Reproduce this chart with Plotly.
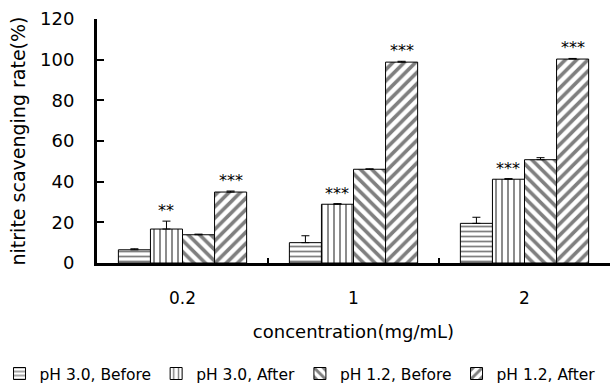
import plotly.graph_objects as go

categories = ["0.2", "1", "2"]
series_names = ["pH 3.0, Before", "pH 3.0, After", "pH 1.2, Before", "pH 1.2, After"]
ph30_before = [6.5, 10.0, 19.5]
ph30_after = [16.7, 28.9, 41.2]
ph12_before = [13.9, 46.1, 50.8]
ph12_after = [34.9, 98.8, 100.3]
ph30_before_err = [0.5, 3.4, 3.0]
ph30_after_err = [3.9, 0.3, 0.3]
ph12_before_err = [0.3, 0.2, 1.0]
ph12_after_err = [0.5, 0.4, 0.3]
ph30_after_stars = ["**", "***", "***"]
ph12_after_stars = ["***", "***", "***"]

FONT = "DejaVu Sans"
values = [ph30_before, ph30_after, ph12_before, ph12_after]
errors = [ph30_before_err, ph30_after_err, ph12_before_err, ph12_after_err]
shapes = ["-", "|", "\\", "/"]
sizes = [5, 6, 8, 8]
solid = [0.35, 0.3, 0.45, 0.45]

fig = go.Figure()
for name, v, e, sh, sz, so in zip(series_names, values, errors, shapes, sizes, solid):
    fig.add_trace(go.Bar(
        x=categories, y=v, name=name,
        marker=dict(color="white", line=dict(color="black", width=1),
                    pattern=dict(shape=sh, fgcolor="black", bgcolor="white",
                                 size=sz, solidity=so, fillmode="overlay")),
        error_y=dict(type="data", array=e, arrayminus=[0] * len(e), symmetric=False,
                     color="black", thickness=1, width=4),
    ))

# significance marks
plot_w = 610 - 97
cat_w = plot_w / len(categories)
bar_w = cat_w * 0.75 / 4
annotations = []
for idx, stars, v, e in [(1, ph30_after_stars, ph30_after, ph30_after_err),
                         (3, ph12_after_stars, ph12_after, ph12_after_err)]:
    for ci, (s, val, er) in enumerate(zip(stars, v, e)):
        annotations.append(dict(
            x=ci, y=val + er, xref="x", yref="y", text=s, showarrow=False,
            xshift=(idx - 1.5) * bar_w, yshift=-1, yanchor="bottom",
            font=dict(family=FONT, size=16, color="#000000")))

fig.update_layout(
    width=610, height=388,
    margin=dict(l=97, r=0, t=19, b=125, autoexpand=False),
    paper_bgcolor="white", plot_bgcolor="white",
    barmode="group", bargap=0.25, bargroupgap=0,
    font=dict(family=FONT, size=17, color="black"),
    annotations=annotations,
    showlegend=True,
    legend=dict(orientation="h", xref="paper", yref="paper",
                x=-0.19, xanchor="left", y=-0.385, yanchor="top",
                font=dict(family=FONT, size=15.5, color="black"),
                itemwidth=30, tracegroupgap=0),
)
fig.update_xaxes(
    type="category", categoryorder="array", categoryarray=categories,
    automargin=False,
    showline=True, linecolor="black", linewidth=3, mirror=False,
    ticks="inside", tickson="boundaries", ticklen=5, tickwidth=2, tickcolor="black",
    ticklabelstandoff=18, tickfont=dict(family=FONT, size=17),
    title=dict(text="concentration(mg/mL)", font=dict(family=FONT, size=18), standoff=18),
    showgrid=False, zeroline=False,
)
fig.update_yaxes(
    range=[0, 120], dtick=20, tick0=0, automargin=False,
    showline=True, linecolor="black", linewidth=3,
    ticks="inside", ticklen=7, tickwidth=2, tickcolor="black",
    ticklabelstandoff=16, tickfont=dict(family=FONT, size=18),
    title=dict(text="nitrite scavenging rate(%)", font=dict(family=FONT, size=19), standoff=10),
    showgrid=False, zeroline=False,
)

fig.write_html("out.html")
